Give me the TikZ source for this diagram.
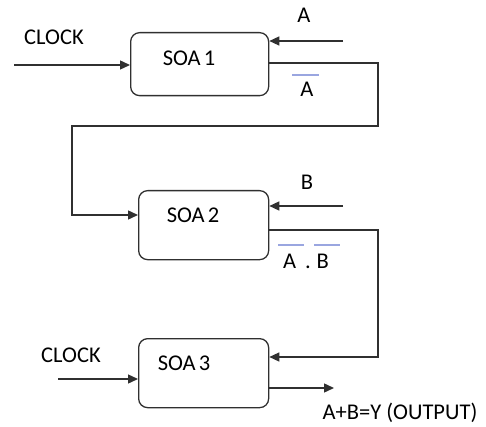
\documentclass[tikz,border=0pt]{standalone}
\usepackage{fontspec}
\setmainfont{Carlito}
\usetikzlibrary{arrows.meta,calc}
\definecolor{ln}{HTML}{303030}
\definecolor{bar}{HTML}{9AA6E0}
\tikzset{
  box/.style={draw=ln,line width=1.3pt,rounded corners=9pt,anchor=north west,inner sep=0pt},
  lbl/.style={inner sep=0pt,font=\fontsize{22.5}{26}\selectfont,text=black},
  wire/.style={draw=ln,line width=1.4pt},
  arr/.style={wire,-{Triangle[length=10pt,width=9pt]}},
  ovl/.style={draw=bar,line width=1.2pt}
}
\begin{document}
\begin{tikzpicture}[x=1pt,y=-1pt]
\useasboundingbox (0,0) rectangle (486,427);
% boxes
\node[box,minimum width=138pt,minimum height=63pt] (b1) at (130,32) {};
\node[box,minimum width=130pt,minimum height=69pt] (b2) at (138,190) {};
\node[box,minimum width=130pt,minimum height=69pt] (b3) at (138,338) {};
\node[lbl] (t1) at (189,58) {SOA\hspace{-2pt} 1};
\node[lbl] (t2) at (193,215) {SOA\hspace{-2pt} 2};
\node[lbl] (t3) at (184,363) {SOA\hspace{-2pt} 3};
% labels
\node[lbl] (clk1) at (54,37) {CLOCK};
\node[lbl] (la) at (304,15) {A};
\node[lbl] (lna) at (307,89) {A};
\node[lbl] (lb) at (307,182) {B};
\node[lbl] (lnab) at (306,261) {A\hspace{9pt}.\hspace{6pt}B};
\node[lbl] (clk2) at (71,355) {CLOCK};
\node[lbl] (out) at (400,413) {A+B=Y (OUTPUT)};
% overlines
\draw[ovl] (292,75) -- (319,75);
\draw[ovl] (278,245) -- (304,245);
\draw[ovl] (314,245) -- (340,245);
% free ends
\coordinate (c1) at (14,65);
\coordinate (a1) at (343,41);
\coordinate (bb) at (343,206);
\coordinate (c2) at (58,379);
\coordinate (o) at (334,388);
% connectors
\draw[arr] (c1) -- (b1.west|-c1);
\draw[arr] (a1) -- (b1.east|-a1);
\draw[arr] (b1.east|-0,63) -- (378,63) -- (378,126) -- (72,126) -- (72,215) -- (b2.west|-0,215);
\draw[arr] (bb) -- (b2.east|-bb);
\draw[arr] (b2.east|-0,230) -- (378,230) -- (378,357) -- (b3.east|-0,357);
\draw[arr] (c2) -- (b3.west|-c2);
\draw[arr] (b3.east|-o) -- (o);
\end{tikzpicture}
\end{document}
